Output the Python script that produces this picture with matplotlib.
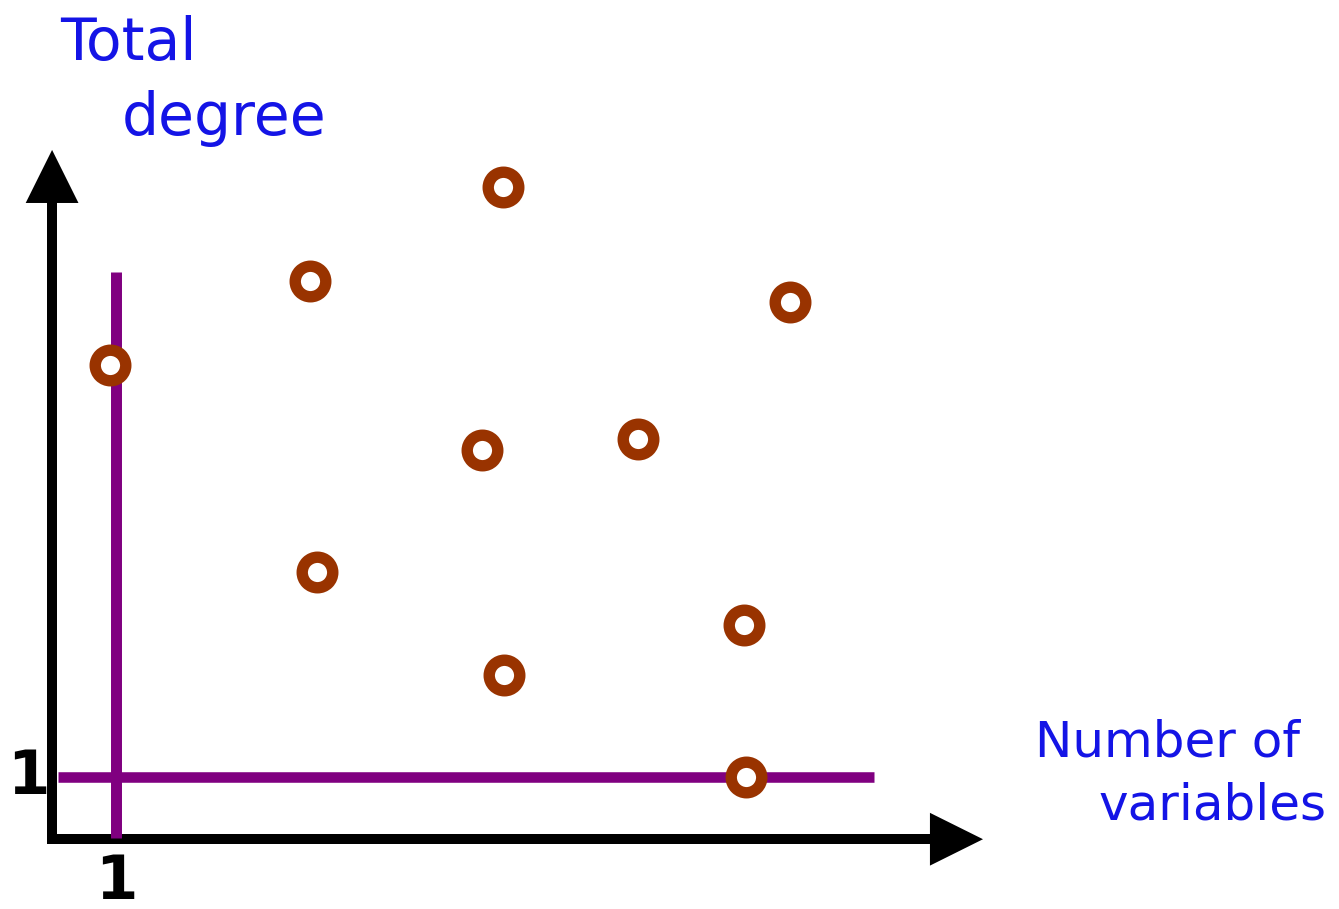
import matplotlib
matplotlib.use('Agg')
import matplotlib.pyplot as plt

# Sample polynomial systems: (number of variables, total degree)
num_vars = [0.91, 3.85, 6.69, 6.38, 8.68, 10.91, 3.96, 6.71, 10.24, 10.26]
tot_degree = [7.75, 9.13, 10.67, 6.36, 6.54, 8.79, 4.36, 2.67, 3.49, 1.0]

# Reference lines at one variable / degree one
ref_level = 1
vline_top = 9.28
hline_span = [0.15, 12.15]

axis_x0, axis_y0 = 0.06, -0.02
axis_tip_x = 13.75
axis_tip_y = 11.28

blue = '#1414e6'
purple = '#800080'
brown = '#993300'

fig = plt.figure(figsize=(13.39, 9.09), dpi=100)
ax = fig.add_axes([0, 0, 1, 1])
ax.set_xlim(-48 / 68, (1339 - 48) / 68)
ax.set_ylim((838 - 909) / 61, 838 / 61)
ax.axis('off')

# axes drawn as arrows
ax.plot([axis_x0, axis_x0, axis_tip_x - 0.6], [axis_tip_y - 0.6, axis_y0, axis_y0],
        color='black', lw=7.2, solid_joinstyle='miter', solid_capstyle='butt', zorder=2)
head = dict(arrowstyle='-|>,head_length=1.91,head_width=0.95', color='black',
            lw=0, mutation_scale=20, shrinkA=0, shrinkB=0)
ax.annotate('', xy=(axis_tip_x, axis_y0), xytext=(axis_tip_x - 1.5, axis_y0), arrowprops=head)
ax.annotate('', xy=(axis_x0, axis_tip_y), xytext=(axis_x0, axis_tip_y - 1.5), arrowprops=head)

# purple reference lines
ax.plot([ref_level, ref_level], [0, vline_top], color=purple, lw=7.9,
        solid_capstyle='butt', zorder=3)
ax.plot(hline_span, [ref_level, ref_level], color=purple, lw=7.6,
        solid_capstyle='butt', zorder=3)

# the systems
ax.plot(num_vars, tot_degree, 'o', ms=22, mfc='white', mec=brown, mew=8.2,
        ls='none', zorder=4)

# labels
ax.text(0.18, 12.75, 'Total', color=blue, fontsize=42, ha='left', va='baseline')
ax.text(1.09, 11.52, 'degree', color=blue, fontsize=42, ha='left', va='baseline')
ax.text(14.51, 1.33, 'Number of', color=blue, fontsize=36, ha='left', va='baseline')
ax.text(18.81, 0.30, 'variables', color=blue, fontsize=36, ha='right', va='baseline')

ax.text(-0.29, ref_level, '1', color='black', fontsize=44, fontweight='bold',
        ha='center', va='center')
ax.text(ref_level, -0.24, '1', color='black', fontsize=44, fontweight='bold',
        ha='center', va='top')

fig.savefig('out.png', dpi=100, facecolor='white')
